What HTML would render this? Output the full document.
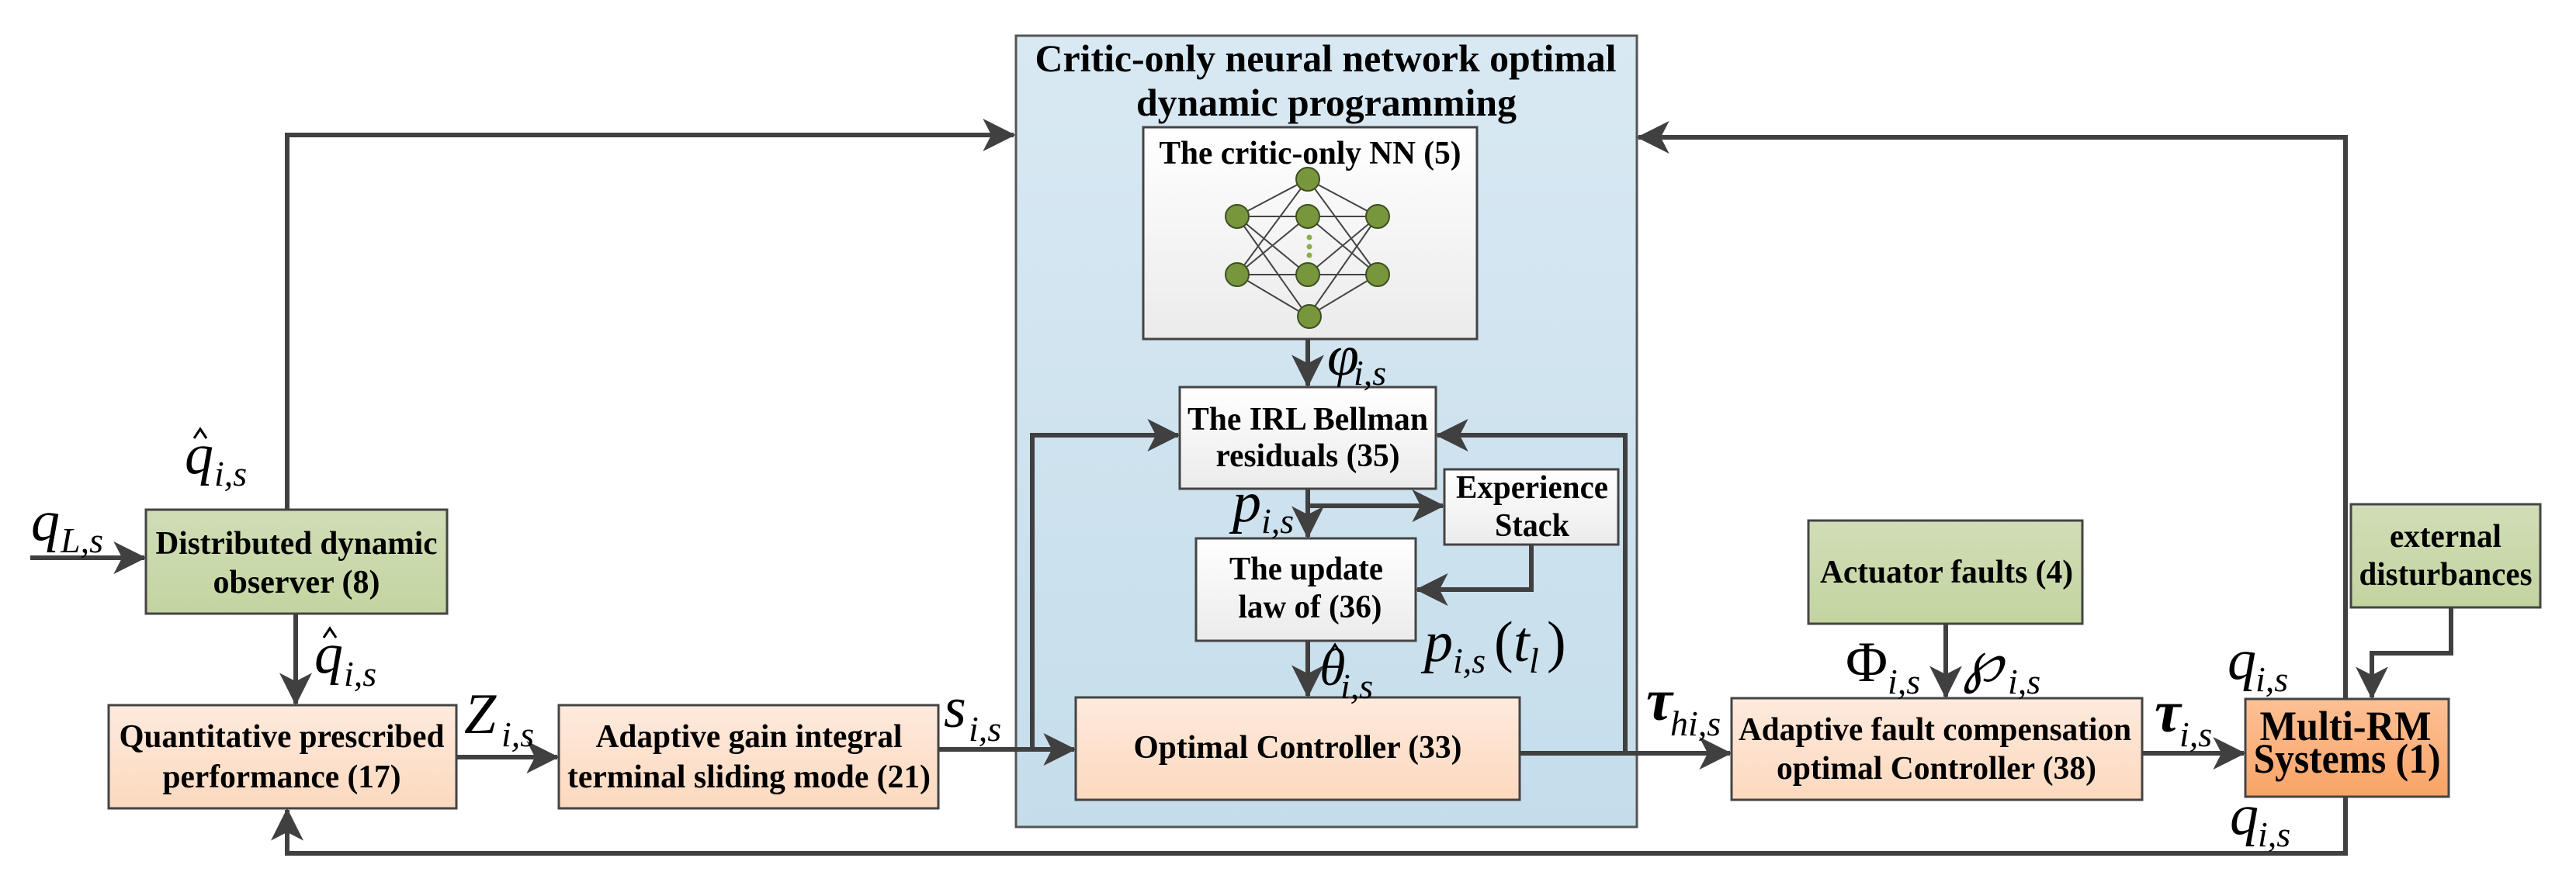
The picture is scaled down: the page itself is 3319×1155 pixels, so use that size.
<!DOCTYPE html>
<html><head><meta charset="utf-8"><style>html,body{margin:0;padding:0;background:#fff}svg{display:block}</style></head>
<body>
<svg width="3319" height="1155" viewBox="0 0 3319 1155" xmlns="http://www.w3.org/2000/svg" font-family="Liberation Serif, serif">
<defs>
<linearGradient id="gb" x1="0" y1="0" x2="0" y2="1"><stop offset="0" stop-color="#d9e9f3"/><stop offset="1" stop-color="#c5ddeb"/></linearGradient>
<linearGradient id="gg" x1="0" y1="0" x2="0" y2="1"><stop offset="0" stop-color="#d1ddb7"/><stop offset="1" stop-color="#c3d4a0"/></linearGradient>
<linearGradient id="gp" x1="0" y1="0" x2="0" y2="1"><stop offset="0" stop-color="#feeadd"/><stop offset="1" stop-color="#fcd9bf"/></linearGradient>
<linearGradient id="go" x1="0" y1="0" x2="0" y2="1"><stop offset="0" stop-color="#fdc096"/><stop offset="1" stop-color="#f9a466"/></linearGradient>
<linearGradient id="gw" x1="0" y1="0" x2="0" y2="1"><stop offset="0" stop-color="#ffffff"/><stop offset="1" stop-color="#ebebeb"/></linearGradient>
<marker id="a" markerWidth="7" markerHeight="7" refX="6.6" refY="3.5" orient="auto" markerUnits="strokeWidth"><path d="M0,0 L7,3.5 L0,7 L1.8,3.5 z" fill="#404040"/></marker>
</defs>

<rect x="1309" y="46" width="800" height="1020" fill="url(#gb)" stroke="#555" stroke-width="3"/>
<text x="1708" y="92" font-size="50" font-weight="bold" text-anchor="middle" textLength="749" lengthAdjust="spacingAndGlyphs">Critic-only neural network optimal</text>
<text x="1709" y="149" font-size="50" font-weight="bold" text-anchor="middle" textLength="490" lengthAdjust="spacingAndGlyphs">dynamic programming</text>

<rect x="1473" y="164" width="430" height="273" fill="url(#gw)" stroke="#444" stroke-width="3"/>
<text x="1688" y="211" font-size="42" font-weight="bold" text-anchor="middle" textLength="389" lengthAdjust="spacingAndGlyphs">The critic-only NN (5)</text>
<g stroke="#444" stroke-width="2">
<line x1="1594" y1="279" x2="1685" y2="231"/><line x1="1594" y1="279" x2="1685" y2="279"/><line x1="1594" y1="279" x2="1685" y2="354"/><line x1="1594" y1="279" x2="1685" y2="408"/>
<line x1="1594" y1="354" x2="1685" y2="231"/><line x1="1594" y1="354" x2="1685" y2="279"/><line x1="1594" y1="354" x2="1685" y2="354"/><line x1="1594" y1="354" x2="1685" y2="408"/>
<line x1="1775" y1="279" x2="1685" y2="231"/><line x1="1775" y1="279" x2="1685" y2="279"/><line x1="1775" y1="279" x2="1685" y2="354"/><line x1="1775" y1="279" x2="1685" y2="408"/>
<line x1="1775" y1="354" x2="1685" y2="231"/><line x1="1775" y1="354" x2="1685" y2="279"/><line x1="1775" y1="354" x2="1685" y2="354"/><line x1="1775" y1="354" x2="1685" y2="408"/>
</g>
<g fill="#78973c" stroke="#3d4f22" stroke-width="2">
<ellipse cx="1594" cy="279" rx="15" ry="15"/><ellipse cx="1594" cy="354" rx="15" ry="15"/>
<ellipse cx="1685" cy="231" rx="15" ry="15"/><ellipse cx="1685" cy="279" rx="15" ry="15"/><ellipse cx="1685" cy="354" rx="15" ry="15"/><ellipse cx="1687" cy="408" rx="15" ry="15"/>
<ellipse cx="1775" cy="279" rx="15" ry="15"/><ellipse cx="1775" cy="354" rx="15" ry="15"/>
</g>
<g fill="#8aae4a"><circle cx="1687" cy="306" r="3.5"/><circle cx="1687" cy="318" r="3.5"/><circle cx="1687" cy="329" r="3.5"/></g>

<rect x="1520" y="499" width="330" height="131" fill="url(#gw)" stroke="#444" stroke-width="3"/>
<text x="1685" y="554" font-size="42" font-weight="bold" text-anchor="middle" textLength="310" lengthAdjust="spacingAndGlyphs">The IRL Bellman</text>
<text x="1685" y="601" font-size="42" font-weight="bold" text-anchor="middle" textLength="237" lengthAdjust="spacingAndGlyphs">residuals (35)</text>

<rect x="1861" y="605" width="224" height="97" fill="url(#gw)" stroke="#444" stroke-width="3"/>
<text x="1974" y="642" font-size="42" font-weight="bold" text-anchor="middle" textLength="196" lengthAdjust="spacingAndGlyphs">Experience</text>
<text x="1974" y="691" font-size="42" font-weight="bold" text-anchor="middle" textLength="96" lengthAdjust="spacingAndGlyphs">Stack</text>

<rect x="1541" y="694" width="283" height="132" fill="url(#gw)" stroke="#444" stroke-width="3"/>
<text x="1683" y="747" font-size="42" font-weight="bold" text-anchor="middle" textLength="198" lengthAdjust="spacingAndGlyphs">The update</text>
<text x="1688" y="796" font-size="42" font-weight="bold" text-anchor="middle" textLength="185" lengthAdjust="spacingAndGlyphs">law of (36)</text>

<rect x="1386" y="899" width="572" height="132" fill="url(#gp)" stroke="#444" stroke-width="3"/>
<text x="1672" y="977" font-size="42" font-weight="bold" text-anchor="middle" textLength="423" lengthAdjust="spacingAndGlyphs">Optimal Controller (33)</text>

<rect x="188" y="657" width="388" height="134" fill="url(#gg)" stroke="#444" stroke-width="3"/>
<text x="382" y="714" font-size="42" font-weight="bold" text-anchor="middle" textLength="363" lengthAdjust="spacingAndGlyphs">Distributed dynamic</text>
<text x="382" y="764" font-size="42" font-weight="bold" text-anchor="middle" textLength="215" lengthAdjust="spacingAndGlyphs">observer (8)</text>

<rect x="140" y="909" width="448" height="133" fill="url(#gp)" stroke="#444" stroke-width="3"/>
<text x="363" y="963" font-size="42" font-weight="bold" text-anchor="middle" textLength="419" lengthAdjust="spacingAndGlyphs">Quantitative prescribed</text>
<text x="363" y="1015" font-size="42" font-weight="bold" text-anchor="middle" textLength="307" lengthAdjust="spacingAndGlyphs">performance (17)</text>

<rect x="720" y="909" width="489" height="133" fill="url(#gp)" stroke="#444" stroke-width="3"/>
<text x="965" y="963" font-size="42" font-weight="bold" text-anchor="middle" textLength="395" lengthAdjust="spacingAndGlyphs">Adaptive gain integral</text>
<text x="965" y="1015" font-size="42" font-weight="bold" text-anchor="middle" textLength="468" lengthAdjust="spacingAndGlyphs">terminal sliding mode (21)</text>

<rect x="2330" y="671" width="353" height="133" fill="url(#gg)" stroke="#444" stroke-width="3"/>
<text x="2508" y="751" font-size="42" font-weight="bold" text-anchor="middle" textLength="326" lengthAdjust="spacingAndGlyphs">Actuator faults (4)</text>

<rect x="3029" y="650" width="244" height="133" fill="url(#gg)" stroke="#444" stroke-width="3"/>
<text x="3151" y="705" font-size="42" font-weight="bold" text-anchor="middle" textLength="144" lengthAdjust="spacingAndGlyphs">external</text>
<text x="3151" y="754" font-size="42" font-weight="bold" text-anchor="middle" textLength="223" lengthAdjust="spacingAndGlyphs">disturbances</text>

<rect x="2231" y="900" width="529" height="131" fill="url(#gp)" stroke="#444" stroke-width="3"/>
<text x="2493" y="954" font-size="42" font-weight="bold" text-anchor="middle" textLength="506" lengthAdjust="spacingAndGlyphs">Adaptive fault compensation</text>
<text x="2495" y="1004" font-size="42" font-weight="bold" text-anchor="middle" textLength="412" lengthAdjust="spacingAndGlyphs">optimal Controller (38)</text>

<rect x="2893" y="901" width="262" height="126" fill="url(#go)" stroke="#444" stroke-width="3"/>
<text x="3022" y="954" font-size="54" font-weight="bold" text-anchor="middle" textLength="221" lengthAdjust="spacingAndGlyphs">Multi-RM</text>
<text x="3024" y="996" font-size="54" font-weight="bold" text-anchor="middle" textLength="241" lengthAdjust="spacingAndGlyphs">Systems (1)</text>

<g stroke="#404040" stroke-width="6" fill="none" stroke-linejoin="miter">
<line x1="39" y1="719" x2="186" y2="719" marker-end="url(#a)"/>
<polyline points="370,657 370,174 1306,174" marker-end="url(#a)"/>
<line x1="381" y1="791" x2="381" y2="907" marker-end="url(#a)"/>
<line x1="588" y1="976" x2="718" y2="976" marker-end="url(#a)"/>
<line x1="1209" y1="966" x2="1384" y2="966" marker-end="url(#a)"/>
<polyline points="1330,966 1330,561 1518,561" marker-end="url(#a)"/>
<line x1="1685" y1="437" x2="1685" y2="497" marker-end="url(#a)"/>
<line x1="1685" y1="630" x2="1685" y2="692" marker-end="url(#a)"/>
<line x1="1685" y1="652" x2="1859" y2="652" marker-end="url(#a)"/>
<polyline points="1973,702 1973,760 1826,760" marker-end="url(#a)"/>
<line x1="1685" y1="826" x2="1685" y2="897" marker-end="url(#a)"/>
<line x1="1958" y1="971" x2="2229" y2="971" marker-end="url(#a)"/>
<polyline points="2094,971 2094,561 1852,561" marker-end="url(#a)"/>
<line x1="2507" y1="804" x2="2507" y2="898" marker-end="url(#a)"/>
<line x1="2760" y1="971" x2="2891" y2="971" marker-end="url(#a)"/>
<polyline points="3158,783 3158,842 3056,842 3056,899" marker-end="url(#a)"/>
<polyline points="3022,901 3022,177 2111,177" marker-end="url(#a)"/>
<polyline points="3022,1027 3022,1100 370,1100 370,1044" marker-end="url(#a)"/>
</g>

<!-- hats -->
<g stroke="#000" stroke-width="3" fill="none">
<polyline points="250,565 258,553 266,565"/>
<polyline points="417,822 425,810 433,822"/>
<polyline points="1713,842 1720,831 1727,842"/>
</g>

<g font-family="Liberation Serif, serif" font-style="italic" fill="#000">
<text x="238" y="610" font-size="74">q</text><text x="276" y="626" font-size="46">i,s</text>
<text x="40" y="696" font-size="74">q</text><text x="78" y="712" font-size="46">L,s</text>
<text x="405" y="867" font-size="74">q</text><text x="443" y="884" font-size="46">i,s</text>
<text x="598" y="945" font-size="74">Z</text><text x="646" y="962" font-size="46">i,s</text>
<text x="1216" y="937" font-size="74">s</text><text x="1248" y="955" font-size="46">i,s</text>
<text x="1710" y="483" font-size="74">φ</text><text x="1744" y="496" font-size="46">i,s</text>
<text x="1588" y="672" font-size="74">p</text><text x="1625" y="687" font-size="46">i,s</text>
<text x="1835" y="852" font-size="74">p</text><text x="1872" y="867" font-size="46">i,s</text><text x="1925" y="852" font-size="74" font-style="normal">(</text><text x="1950" y="852" font-size="74">t</text><text x="1970" y="867" font-size="46">l</text><text x="1993" y="852" font-size="74" font-style="normal">)</text>
<text x="1700" y="883" font-size="68">θ</text><text x="1727" y="900" font-size="46">i,s</text>
<text x="2121" y="928" font-size="76" font-weight="bold">τ</text><text x="2152" y="948" font-size="46">hi,s</text>
<text x="2378" y="878" font-size="74" font-style="normal">Φ</text><text x="2432" y="894" font-size="46">i,s</text>
<text x="2529" y="878" font-size="74">℘</text><text x="2587" y="894" font-size="46">i,s</text>
<text x="2776" y="943" font-size="76" font-weight="bold">τ</text><text x="2808" y="962" font-size="46">i,s</text>
<text x="2870" y="875" font-size="74">q</text><text x="2906" y="891" font-size="46">i,s</text>
<text x="2873" y="1075" font-size="74">q</text><text x="2909" y="1091" font-size="46">i,s</text>
</g>
</svg>
</body></html>
